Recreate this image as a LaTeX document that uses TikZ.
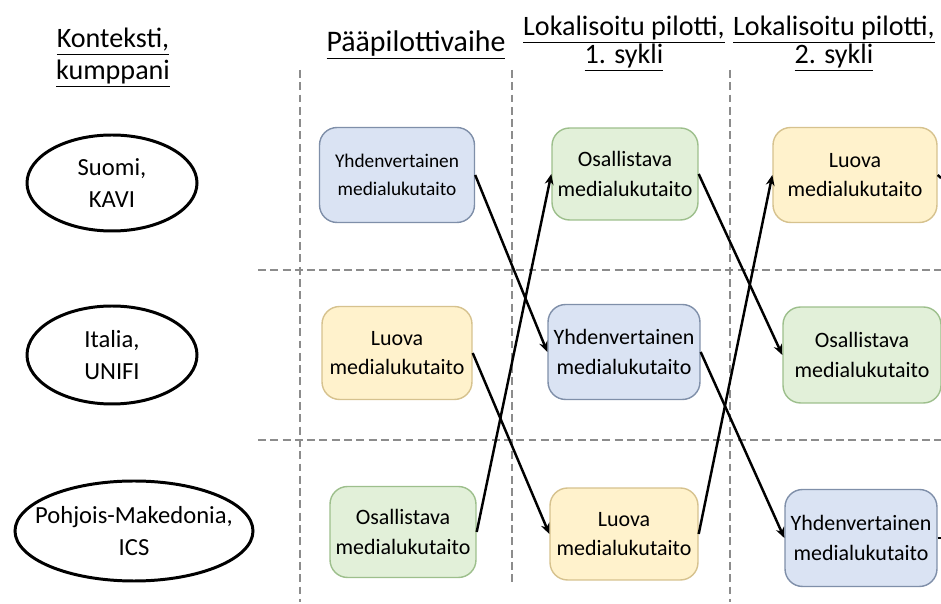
\documentclass[tikz,border=0pt]{standalone}
\usepackage{fontspec}
\setmainfont{Carlito}
\usetikzlibrary{arrows.meta}

\definecolor{yhdfill}{HTML}{DAE3F3}
\definecolor{yhdline}{HTML}{7F8FA9}
\definecolor{luofill}{HTML}{FFF2CC}
\definecolor{luoline}{HTML}{D6C28E}
\definecolor{osafill}{HTML}{E2F0D9}
\definecolor{osaline}{HTML}{9DBF8C}
\definecolor{gridgray}{HTML}{8C8C8C}

\begin{document}
\begin{tikzpicture}[x=0.02cm,y=-0.02cm,
    head/.style={align=center, font=\fontsize{16}{16}\selectfont},
    paikka/.style={align=center, inner sep=0pt, font=\fontsize{14}{18}\selectfont},
    reuna/.style={line width=1.7pt},
    box/.style={draw, rounded corners=10pt, line width=0.8pt, inner sep=0pt, align=center,
        font=\fontsize{12.5}{17}\selectfont},
    yhd/.style={box, fill=yhdfill, draw=yhdline},
    luo/.style={box, fill=luofill, draw=luoline},
    osa/.style={box, fill=osafill, draw=osaline},
    raja/.style={gridgray, line width=1.6pt, dash pattern=on 4.5pt off 2.5pt},
    flow/.style={line width=1.4pt, -{Stealth[length=6pt,width=5pt]}}
  ]
    \useasboundingbox (0,0) rectangle (941,604);

    % headers
    \node[head, font=\fontsize{16}{18}\selectfont] (h0) at (113,58) {\underline{Konteksti,}\\\underline{kumppani}};
    \node[head, font=\fontsize{17}{17}\selectfont] (h1) at (416,45) {\underline{Pääpilottivaihe}};
    \node[head] (h2) at (624,44) {\underline{Lokalisoitu pilotti,}\\\underline{1. sykli}};
    \node[head] (h3) at (834,44) {\underline{Lokalisoitu pilotti,}\\\underline{2. sykli}};

    % grid
    \foreach \x/\yb in {300/602,512/582,730/602}
    {   \draw[raja] (\x,70) -- (\x,\yb);
    }
    \foreach \y in {270,440}
    {   \draw[raja] (258,\y) -- (941,\y);
    }

    % contexts
    \node[paikka] (fi) at (112,183) {Suomi,\\KAVI};
    \node[paikka] (it) at (112,355) {Italia,\\UNIFI};
    \node[paikka] (mk) at (134,531) {Pohjois-Makedonia,\\ICS};
    \draw[reuna] (fi.center) ellipse [x radius=85, y radius=48];
    \draw[reuna] (it.center) ellipse [x radius=85, y radius=49];
    \draw[reuna] (mk.center) ellipse [x radius=119, y radius=50];

    % main pilot
    \node[yhd, minimum width=3.1cm, minimum height=1.9cm, font=\fontsize{11}{16}\selectfont]
        (c1yhd) at (397,175) {Yhdenvertainen\\medialukutaito};
    \node[luo, minimum width=3cm, minimum height=1.86cm] (c1luo) at (397,353) {Luova\\medialukutaito};
    \node[osa, minimum width=2.92cm, minimum height=1.82cm] (c1osa) at (403,532) {Osallistava\\medialukutaito};

    % 1st cycle
    \node[osa, minimum width=2.92cm, minimum height=1.84cm] (c2osa) at (625,174) {Osallistava\\medialukutaito};
    \node[yhd, minimum width=3.04cm, minimum height=1.9cm] (c2yhd) at (624,352) {Yhdenvertainen\\medialukutaito};
    \node[luo, minimum width=2.96cm, minimum height=1.84cm] (c2luo) at (624,534) {Luova\\medialukutaito};

    % 2nd cycle
    \node[luo, minimum width=3.28cm, minimum height=1.9cm] (c3luo) at (855,175) {Luova\\medialukutaito};
    \node[osa, minimum width=3.16cm, minimum height=1.92cm] (c3osa) at (862,355) {Osallistava\\medialukutaito};
    \node[yhd, minimum width=3.04cm, minimum height=1.94cm] (c3yhd) at (861,538) {Yhdenvertainen\\medialukutaito};

    \coordinate (o1) at (941,178);
    \coordinate (o2) at (941,355);
    \coordinate (o3) at (941,538);

    % arrows
    \draw[flow] (c1yhd.east) -- (c2yhd.west);
    \draw[flow] (c1luo.east) -- (c2luo.west);
    \draw[flow] (c1osa.east) -- (c2osa.west);
    \draw[flow] (c2osa.east) -- (c3osa.west);
    \draw[flow] (c2yhd.east) -- (c3yhd.west);
    \draw[flow] (c2luo.east) -- (c3luo.west);
    \draw[line width=1.4pt] (c3luo.east) -- (o1);
    \draw[line width=1.4pt] (c3osa.east) -- (o2);
    \draw[line width=1.4pt] (c3yhd.east) -- (o3);
\end{tikzpicture}
\end{document}
